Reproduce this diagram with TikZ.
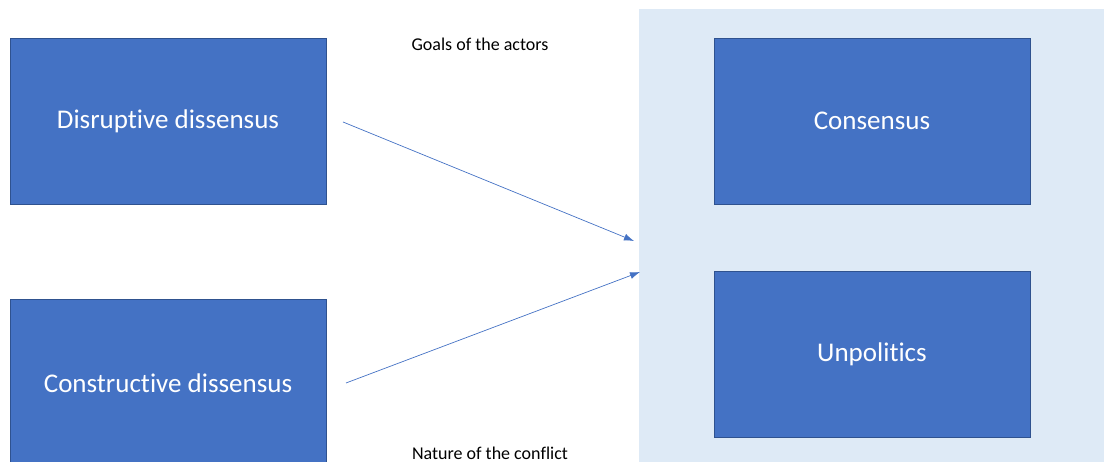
\documentclass[tikz,border=0pt]{standalone}
\usepackage{fontspec}
\setmainfont{Carlito}[Ligatures=NoCommon]
\usetikzlibrary{arrows.meta}
\definecolor{boxblue}{HTML}{4472C4}
\definecolor{boxedge}{HTML}{2F528F}
\definecolor{panelblue}{HTML}{DEEAF6}
\tikzset{
	bluebox/.style={draw=boxedge,fill=boxblue,line width=0.8pt,minimum width=316pt,minimum height=166pt,text=white,font=\fontsize{27}{32}\selectfont},
	flow/.style={draw=boxblue,line width=0.7pt,-{Latex[length=10pt,width=7pt]}},
	caption/.style={font=\fontsize{18}{22}\selectfont,text=black}
}
\begin{document}
\begin{tikzpicture}[x=1pt,y=1pt]
	\useasboundingbox (0,0) rectangle (1104,462);
	\clip (0,0) rectangle (1104,462);
	
	%RIGHT PANEL
	\node[fill=panelblue,minimum width=465pt,minimum height=453pt,inner sep=0pt] (panel) at (871.5,226.5) {};
	
	%BOXES
	\node[bluebox] (dis) at (168,341) {Disruptive dissensus};
	\node[bluebox,minimum height=168pt] (con) at (168,79) {Constructive dissensus};
	\node[bluebox] (cons) at (872,341) {Consensus};
	\node[bluebox] (unp) at (872,108) {Unpolitics};
	
	%LABELS
	\node[caption] (goals) at (480,418) {Goals of the actors};
	\node[caption] (nature) at (490,9) {Nature of the conflict};
	
	%ARROWS
	\coordinate (s1) at (343,340);
	\coordinate (e1) at (634,221);
	\coordinate (s2) at (346,79);
	\coordinate (e2) at (640,190);
	\draw[flow] (s1)--(e1);
	\draw[flow] (s2)--(e2);
\end{tikzpicture}
\end{document}
